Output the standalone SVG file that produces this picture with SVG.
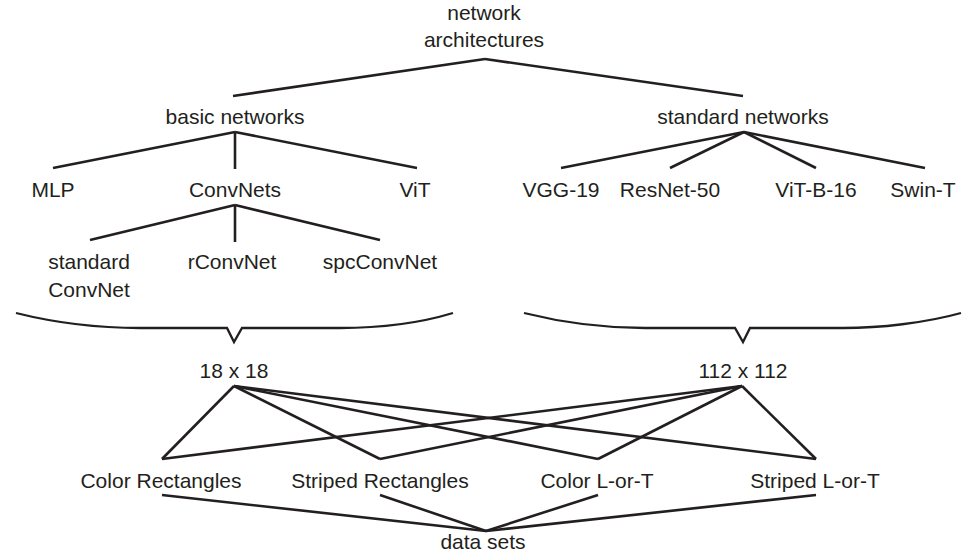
<svg xmlns="http://www.w3.org/2000/svg" width="966" height="556" viewBox="0 0 966 556">
<style>
text{font-family:"Liberation Sans",Arial,sans-serif;font-size:21px;fill:#231f20;text-anchor:middle}
.c line,.c path{stroke:#231f20;stroke-width:2.6;fill:none;stroke-linejoin:miter}
.c path{stroke-width:2.3}
</style>
<rect width="966" height="556" fill="#fff"/>
<g class="c" id="connectors">
<line x1="485" y1="59" x2="233" y2="96"/>
<line x1="485" y1="59" x2="743" y2="96"/>
<line x1="235" y1="132" x2="53" y2="168"/>
<line x1="235" y1="132" x2="235" y2="169"/>
<line x1="235" y1="132" x2="417" y2="168"/>
<line x1="235" y1="205" x2="90" y2="240"/>
<line x1="235" y1="205" x2="235" y2="242"/>
<line x1="235" y1="205" x2="380" y2="240"/>
<line x1="744" y1="132" x2="561" y2="168"/>
<line x1="744" y1="132" x2="670" y2="168"/>
<line x1="744" y1="132" x2="816" y2="168"/>
<line x1="744" y1="132" x2="925" y2="168"/>
<path d="M16,313 C60,324 100,328 140,328 L227,328 L234,342 L242,328 L340,328 C380,328 420,323 453,313"/>
<path d="M524,313 C568,324 608,328 645,328 L735,328 L743,342 L750,328 L843,328 C880,328 925,323 961,313"/>
<line x1="234" y1="386" x2="162" y2="459"/>
<line x1="234" y1="386" x2="380" y2="459"/>
<line x1="234" y1="386" x2="598" y2="459"/>
<line x1="234" y1="386" x2="816" y2="459"/>
<line x1="742" y1="386" x2="162" y2="459"/>
<line x1="742" y1="386" x2="380" y2="459"/>
<line x1="742" y1="386" x2="598" y2="459"/>
<line x1="742" y1="386" x2="816" y2="459"/>
<line x1="162" y1="495" x2="486" y2="531"/>
<line x1="380" y1="495" x2="486" y2="531"/>
<line x1="598" y1="495" x2="486" y2="531"/>
<line x1="816" y1="495" x2="486" y2="531"/>
</g>
<g id="root"><text x="484" y="20">network</text><text x="484" y="47">architectures</text></g>
<g id="basic"><text x="235" y="124">basic networks</text></g>
<g id="standard"><text x="743" y="124">standard networks</text></g>
<g id="mlp"><text x="53" y="197">MLP</text></g>
<g id="convnets"><text x="235" y="197">ConvNets</text></g>
<g id="vit"><text x="415" y="197">ViT</text></g>
<g id="stdconvnet"><text x="89" y="269">standard</text><text x="89" y="297">ConvNet</text></g>
<g id="rconvnet"><text x="232" y="269">rConvNet</text></g>
<g id="spcconvnet"><text x="380" y="269">spcConvNet</text></g>
<g id="vgg"><text x="561" y="197">VGG-19</text></g>
<g id="resnet"><text x="670" y="197">ResNet-50</text></g>
<g id="vitb"><text x="816" y="197">ViT-B-16</text></g>
<g id="swin"><text x="923" y="197">Swin-T</text></g>
<g id="r18"><text x="234" y="378">18 x 18</text></g>
<g id="r112"><text x="743" y="378">112 x 112</text></g>
<g id="colorrect"><text x="161" y="488">Color Rectangles</text></g>
<g id="striperect"><text x="380" y="488">Striped Rectangles</text></g>
<g id="colorlt"><text x="597" y="488">Color L-or-T</text></g>
<g id="stripelt"><text x="815" y="488">Striped L-or-T</text></g>
<g id="datasets"><text x="483" y="549">data sets</text></g>
</svg>
